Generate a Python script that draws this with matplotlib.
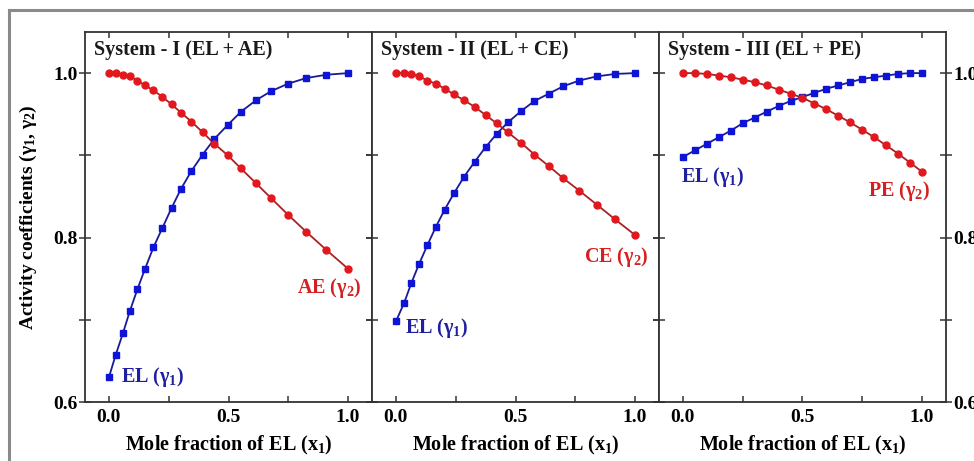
import numpy as np
import matplotlib
matplotlib.use("Agg")
import matplotlib.pyplot as plt
from matplotlib.lines import Line2D

plt.rcParams['font.family'] = ['Liberation Serif', 'DejaVu Serif']
plt.rcParams['font.weight'] = 'bold'
plt.rcParams['mathtext.fontset'] = 'custom'
plt.rcParams['mathtext.rm'] = 'Liberation Serif:bold'
plt.rcParams['mathtext.it'] = 'Liberation Serif:bold'
plt.rcParams['mathtext.bf'] = 'Liberation Serif:bold'

# --- data ---
# System I (EL + AE)
x_sys1 = [0.0, 0.028, 0.059, 0.088, 0.119, 0.151, 0.186, 0.224, 0.262, 0.301,
          0.345, 0.392, 0.441, 0.497, 0.552, 0.615, 0.678, 0.748, 0.825, 0.909, 1.0]
g1_sys1 = [0.630, 0.657, 0.684, 0.711, 0.737, 0.762, 0.788, 0.812, 0.836, 0.859,
           0.881, 0.901, 0.920, 0.937, 0.953, 0.967, 0.978, 0.987, 0.994, 0.998, 1.0]
g2_sys1 = [1.0, 1.0, 0.998, 0.996, 0.991, 0.985, 0.979, 0.971, 0.962, 0.952,
           0.941, 0.928, 0.914, 0.900, 0.884, 0.866, 0.848, 0.828, 0.807, 0.785, 0.762]

# System II (EL + CE)
x_sys2 = [0.0, 0.035, 0.065, 0.097, 0.132, 0.167, 0.204, 0.243, 0.285, 0.329,
          0.375, 0.421, 0.468, 0.524, 0.579, 0.639, 0.700, 0.767, 0.840, 0.917, 1.0]
g1_sys2 = [0.698, 0.721, 0.745, 0.768, 0.791, 0.813, 0.834, 0.854, 0.874, 0.892,
           0.910, 0.926, 0.940, 0.954, 0.966, 0.975, 0.984, 0.991, 0.996, 0.999, 1.0]
g2_sys2 = [1.0, 1.0, 0.999, 0.996, 0.991, 0.987, 0.981, 0.974, 0.967, 0.959,
           0.949, 0.939, 0.928, 0.915, 0.901, 0.887, 0.872, 0.857, 0.840, 0.822, 0.803]

# System III (EL + PE)
x_sys3 = [0.0, 0.05, 0.10, 0.15, 0.20, 0.25, 0.30, 0.35, 0.40, 0.45,
          0.50, 0.55, 0.60, 0.65, 0.70, 0.75, 0.80, 0.85, 0.90, 0.95, 1.0]
g1_sys3 = [0.898, 0.906, 0.914, 0.922, 0.930, 0.939, 0.946, 0.953, 0.960, 0.966,
           0.971, 0.976, 0.981, 0.985, 0.989, 0.993, 0.995, 0.997, 0.999, 1.0, 1.0]
g2_sys3 = [1.0, 1.0, 0.999, 0.997, 0.995, 0.992, 0.989, 0.985, 0.980, 0.975,
           0.970, 0.963, 0.956, 0.948, 0.940, 0.931, 0.922, 0.912, 0.902, 0.891, 0.880]

titles = ['System - I (EL + AE)', 'System - II (EL + CE)', 'System - III (EL + PE)']
comp2 = ['AE', 'CE', 'PE']
# label anchors (data coords): EL left/centre, component 2 right/centre
el_pos = [(0.05, 0.630), (0.037, 0.690), (-0.008, 0.874)]
c2_pos = [(1.054, 0.739), (1.054, 0.776), (1.033, 0.857)]

systems = [(x_sys1, g1_sys1, g2_sys1), (x_sys2, g1_sys2, g2_sys2), (x_sys3, g1_sys3, g2_sys3)]

blue_mk, blue_ln = '#0d14d6', '#1a1a96'
red_mk, red_ln = '#e2181e', '#a82222'
spine_c = '#333333'

fig = plt.figure(figsize=(9.74, 4.61), dpi=100)
W, H = 974, 461
left0, pw = 85, 287
bot, top = 402, 32

axes = []
for i in range(3):
    ax = fig.add_axes([(left0 + i * pw) / W, (H - bot) / H, pw / W, (bot - top) / H])
    axes.append(ax)
    x, g1, g2 = systems[i]
    ax.plot(x, g1, '-', color=blue_ln, lw=1.3, zorder=2)
    ax.plot(x, g1, 's', color=blue_mk, ms=4.4, mec=blue_mk, zorder=3)
    ax.plot(x, g2, '-', color=red_ln, lw=1.3, zorder=2)
    ax.plot(x, g2, 'o', color=red_mk, ms=5.0, mec=red_mk, zorder=3)

    ax.set_xlim(-0.1, 1.1)
    ax.set_ylim(0.6, 1.05)
    ax.set_xticks([0.0, 0.5, 1.0])
    ax.set_xticks([0.25, 0.75], minor=True)
    ax.set_yticks([0.6, 0.8, 1.0])
    ax.set_yticks([0.7, 0.9], minor=True)
    ax.set_xticklabels(['0.0', '0.5', '1.0'])
    ax.tick_params(axis='x', which='both', direction='in', top=True, length=4,
                   width=1.1, color=spine_c, labelsize=14, pad=5)
    ax.tick_params(axis='y', which='both', direction='inout', right=True, length=8,
                   width=1.1, color=spine_c, labelsize=14, pad=1.5)
    ax.tick_params(axis='y', labelleft=(i == 0), labelright=(i == 2))
    for s in ax.spines.values():
        s.set_color(spine_c)
        s.set_linewidth(1.3)

    ax.set_xlabel('Mole fraction of EL (x$_1$)', fontsize=14.5, fontweight='bold', labelpad=6)
    ax.text(0.031, 0.951, titles[i], transform=ax.transAxes, fontsize=14.5,
            fontweight='bold', color='#1a1a1a', ha='left', va='center')
    ax.text(el_pos[i][0], el_pos[i][1], r'EL ($\gamma_1$)', fontsize=14.5,
            fontweight='bold', color='#1f1fa0', ha='left', va='center')
    ax.text(c2_pos[i][0], c2_pos[i][1], comp2[i] + r' ($\gamma_2$)', fontsize=14.5,
            fontweight='bold', color='#d42020', ha='right', va='center')

axes[0].set_ylabel(r'Activity coefficients ($\gamma_1$, $\gamma_2$)', fontsize=14,
                   fontweight='bold', labelpad=10)

# gray outer frame (top and left edges visible)
fig.add_artist(Line2D([8.5 / W, 8.5 / W], [0, (H - 10.5) / H], color='#8a8a8a', lw=2.2))
fig.add_artist(Line2D([8.5 / W, 1], [(H - 10.5) / H, (H - 10.5) / H], color='#8a8a8a', lw=2.2))

fig.savefig('out.png', dpi=100)
